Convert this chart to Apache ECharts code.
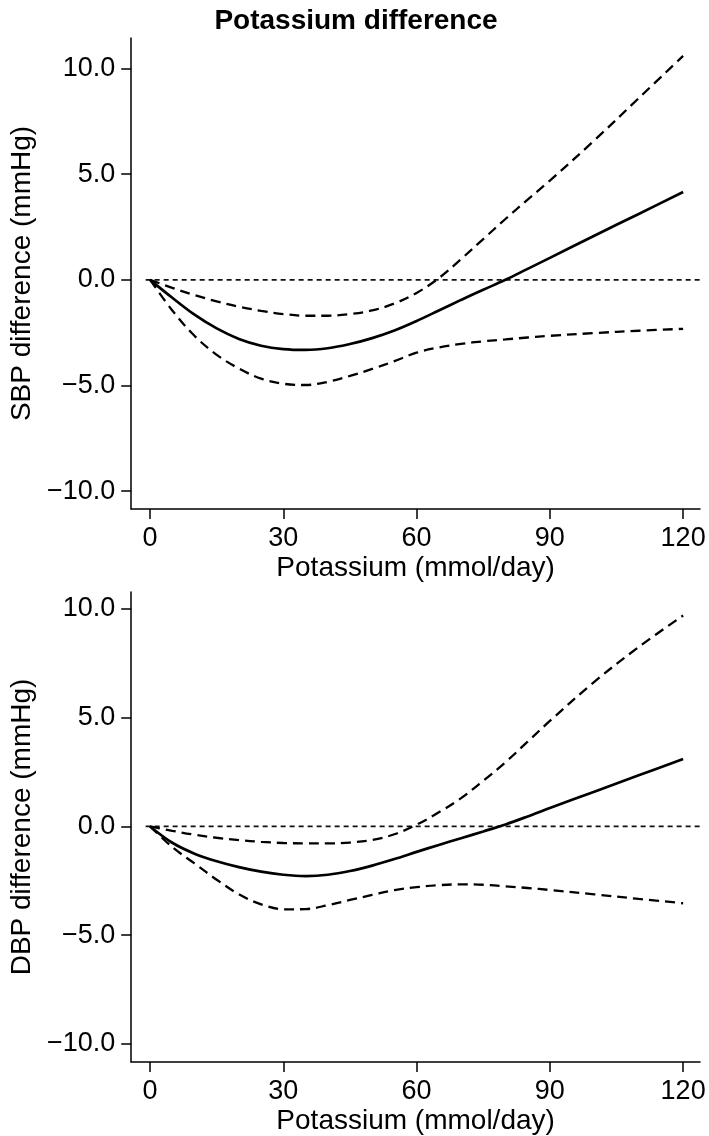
<!DOCTYPE html>
<html>
<head>
<meta charset="utf-8">
<script src="https://cdn.jsdelivr.net/npm/echarts@6/dist/echarts.min.js"></script>
<style>
  html, body { margin: 0; padding: 0; background: #fff; }
  #chart { width: 709px; height: 1136px; }
</style>
</head>
<body>
<div id="chart"></div>
<script>
// potassium intake (mmol/day)
var potassium = [0, 5, 10, 15, 20, 25, 30, 35, 40, 45, 50, 55, 60, 65, 70, 75, 80, 85, 90, 100, 110, 120];

// SBP difference (mmHg): estimate and 95% CI
var sbpEst   = [0, -0.85, -1.65, -2.3, -2.8, -3.12, -3.28, -3.32, -3.24, -3.04, -2.76, -2.4, -1.95, -1.45, -0.95, -0.47, 0.0, 0.52, 1.04, 2.09, 3.12, 4.16];
var sbpUpper = [0, -0.38, -0.72, -1.02, -1.27, -1.47, -1.62, -1.7, -1.7, -1.62, -1.45, -1.12, -0.62, 0.08, 0.98, 1.93, 2.88, 3.8, 4.7, 6.6, 8.6, 10.6];
var sbpLower = [0, -1.45, -2.65, -3.55, -4.2, -4.68, -4.92, -4.98, -4.83, -4.55, -4.22, -3.85, -3.45, -3.2, -3.03, -2.91, -2.82, -2.73, -2.65, -2.52, -2.41, -2.32];

// DBP difference (mmHg): estimate and 95% CI
var dbpEst   = [0, -0.75, -1.25, -1.6, -1.87, -2.08, -2.22, -2.28, -2.22, -2.05, -1.8, -1.5, -1.17, -0.85, -0.54, -0.23, 0.09, 0.46, 0.85, 1.6, 2.35, 3.1];
var dbpUpper = [0, -0.2, -0.38, -0.52, -0.63, -0.71, -0.76, -0.78, -0.78, -0.74, -0.62, -0.36, 0.08, 0.65, 1.3, 2.1, 2.95, 3.9, 4.85, 6.65, 8.25, 9.7];
var dbpLower = [0, -0.95, -1.7, -2.45, -3.12, -3.58, -3.81, -3.8, -3.62, -3.38, -3.15, -2.93, -2.79, -2.7, -2.66, -2.68, -2.75, -2.83, -2.92, -3.12, -3.33, -3.53];

var xTicks = [0, 30, 60, 90, 120];
var yTicks = [-10, -5, 0, 5, 10];

function pairs(ys) {
  return potassium.map(function (x, i) { return [x, ys[i]]; });
}

var font = 'Liberation Sans, Arial, sans-serif';

function xAxisFor(gridIndex) {
  return {
    type: 'value', gridIndex: gridIndex,
    min: -4.25, max: 123.8,
    name: 'Potassium (mmol/day)', nameLocation: 'middle', nameGap: 45,
    nameTextStyle: { fontSize: 28, color: '#000', fontFamily: font },
    splitLine: { show: false },
    axisLine: { onZero: false, lineStyle: { color: '#000', width: 1.5 } },
    axisTick: { customValues: xTicks, length: 10, lineStyle: { color: '#000', width: 1.5 } },
    axisLabel: { customValues: xTicks, fontSize: 27, color: '#000', margin: 16, fontFamily: font }
  };
}

function yAxisFor(gridIndex, name, min, max) {
  return {
    type: 'value', gridIndex: gridIndex,
    min: min, max: max,
    name: name, nameLocation: 'middle', nameGap: 92, nameRotate: 90,
    nameTextStyle: { fontSize: 28, color: '#000', fontFamily: font },
    splitLine: { show: false },
    axisLine: { onZero: false, lineStyle: { color: '#000', width: 1.5 } },
    axisTick: { customValues: yTicks, length: 10, lineStyle: { color: '#000', width: 1.5 } },
    axisLabel: {
      customValues: yTicks, fontSize: 27, color: '#000', margin: 16, fontFamily: font,
      formatter: function (v) { return (v < 0 ? '\u2212' : '') + Math.abs(v).toFixed(1); }
    }
  };
}

function curve(idx, ys, dashed) {
  return {
    type: 'line', xAxisIndex: idx, yAxisIndex: idx,
    data: pairs(ys), smooth: 0.35, showSymbol: false, silent: true,
    lineStyle: dashed
      ? { color: '#000', width: 2.3, type: [10, 6] }
      : { color: '#000', width: 2.7 }
  };
}

function zeroLine(idx) {
  return {
    type: 'line', xAxisIndex: idx, yAxisIndex: idx,
    data: [[-1, 0], [123.8, 0]], showSymbol: false, silent: true, z: 1,
    lineStyle: { color: '#111', width: 1.7, type: [5, 4] }
  };
}

var myChart = echarts.init(document.getElementById('chart'));

var option = {
  animation: false,
  backgroundColor: '#fff',
  title: {
    text: 'Potassium difference', left: 351, top: 2, textAlign: 'center',
    textStyle: { fontSize: 28, fontWeight: 'bold', color: '#000', fontFamily: font }
  },
  grid: [
    { left: 127, right: 9, top: 38, height: 471 },
    { left: 127, right: 9, top: 592, height: 470 }
  ],
  xAxis: [xAxisFor(0), xAxisFor(1)],
  yAxis: [
    yAxisFor(0, 'SBP difference (mmHg)', -10.85, 11.45),
    yAxisFor(1, 'DBP difference (mmHg)', -10.83, 10.78)
  ],
  series: [
    zeroLine(0),
    curve(0, sbpUpper, true),
    curve(0, sbpLower, true),
    curve(0, sbpEst, false),
    zeroLine(1),
    curve(1, dbpUpper, true),
    curve(1, dbpLower, true),
    curve(1, dbpEst, false)
  ]
};

myChart.setOption(option);
</script>
</body>
</html>
